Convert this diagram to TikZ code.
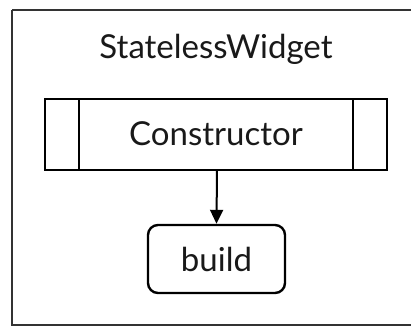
\documentclass[tikz,border=0pt]{standalone}
\usepackage{fontspec}
\setmainfont{Lato}
\usetikzlibrary{arrows.meta}
\begin{document}
\begin{tikzpicture}[x=1pt,y=-1pt,
  lbl/.style={font=\fontsize{33}{35}\selectfont, text=black!90},
  box/.style={draw=black, line width=2.4pt},
  conn/.style={draw=black, line width=2pt, -{Triangle[length=14pt,width=13pt]}}]
\useasboundingbox (0,0) rectangle (411,327);
\begin{scope}
\clip (0,0) rectangle (411,327);
\draw[line width=2.4pt, draw=black!80] (12,10) -- (460,10);
\draw[line width=2.4pt, draw=black!80] (12,10) -- (12,325) -- (460,325);
\end{scope}
\node[lbl] (title) at (216,49) {StatelessWidget};
\draw[box] (45,99) rectangle (387,170);
\draw[box] (79,99) -- (79,170);
\draw[box] (353,99) -- (353,170);
\node[lbl] (ctor) at (216,134) {Constructor};
\coordinate (ctorb) at (217,170);
\node[box, rounded corners=10pt, minimum width=137pt, minimum height=68pt, inner sep=0pt] (build) at (216.5,259) {};
\node[lbl] at (build.center) {build};
\draw[conn] (ctorb) -- (build.north);
\end{tikzpicture}
\end{document}
